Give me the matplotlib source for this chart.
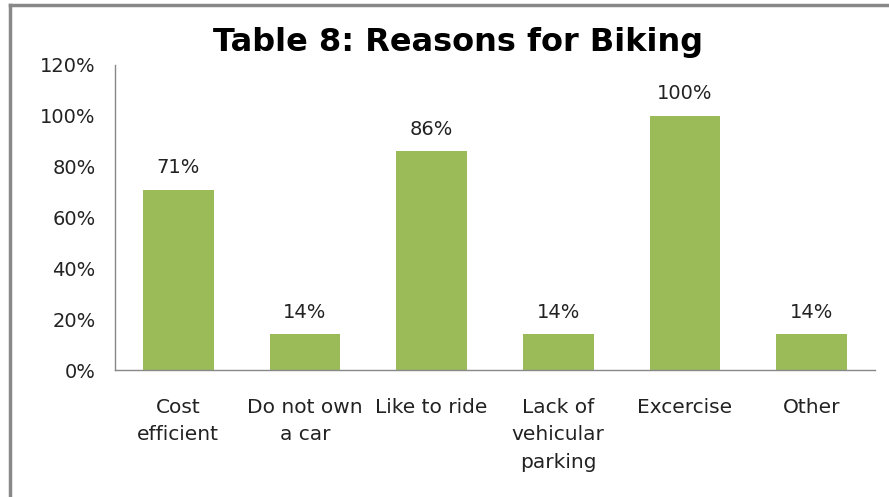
import matplotlib
matplotlib.use("Agg")
import matplotlib.pyplot as plt
from matplotlib.lines import Line2D

categories = ["Cost\nefficient", "Do not own\na car", "Like to ride", "Lack of\nvehicular\nparking", "Excercise", "Other"]
values = [71, 14, 86, 14, 100, 14]
labels = ["71%", "14%", "86%", "14%", "100%", "14%"]
yticks = [0, 20, 40, 60, 80, 100, 120]

plt.rcParams['font.family'] = ['DejaVu Sans']

fig = plt.figure(figsize=(8.89, 4.97), dpi=100)
ax = fig.add_axes([115/889, 1 - 370/497, (875-115)/889, (370-65)/497])

x = list(range(len(categories)))
bars = ax.bar(x, values, width=0.56, color="#9BBB59", zorder=2)
for xi, v, lab in zip(x, values, labels):
    ax.text(xi, v + 5, lab, ha="center", va="bottom", fontsize=14, color="#222222")

ax.set_xlim(-0.5, len(categories) - 0.5)
ax.set_ylim(0, 120)
ax.set_yticks(yticks)
ax.set_yticklabels([f"{t}%" for t in yticks], fontsize=14, color="#222222")
ax.set_xticks(x)
ax.set_xticklabels(categories, fontsize=14.5, color="#222222", linespacing=1.56, va="top")
ax.tick_params(axis="both", length=0)
ax.tick_params(axis="y", pad=14)
ax.tick_params(axis="x", pad=20)
for s in ["top", "right"]:
    ax.spines[s].set_visible(False)
for s in ["left", "bottom"]:
    ax.spines[s].set_color("#888888")
    ax.spines[s].set_linewidth(1.0)

fig.text((213+703)/2/889, 1 - 42/497, "Table 8: Reasons for Biking", ha="center", va="center",
         fontsize=23, fontweight="bold", color="black")

# outer border (top and left visible)
fig.add_artist(Line2D([10/889, 10/889], [0, 1 - 5/497], transform=fig.transFigure, color="#888888", lw=2.5))
fig.add_artist(Line2D([10/889, 1], [1 - 5/497, 1 - 5/497], transform=fig.transFigure, color="#888888", lw=2.5))

fig.savefig("out.png", dpi=100)
